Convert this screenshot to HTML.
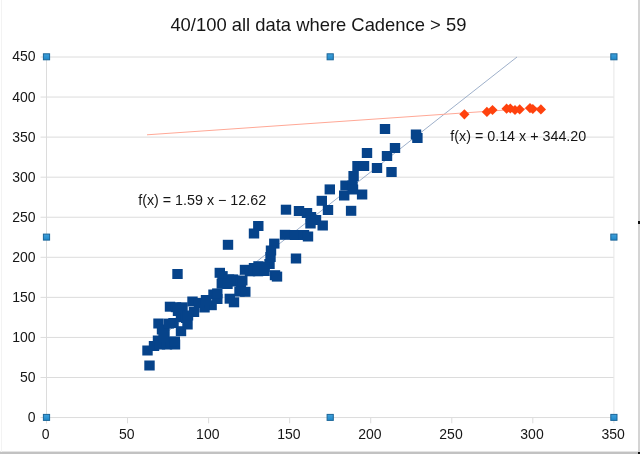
<!DOCTYPE html>
<html><head><meta charset="utf-8"><title>40/100 all data where Cadence &gt; 59</title>
<style>
html,body{margin:0;padding:0;background:#fff;}
body{width:640px;height:454px;overflow:hidden;position:relative;font-family:"Liberation Sans",sans-serif;}
svg{position:absolute;left:0;top:0;display:block;}
text{font-family:"Liberation Sans",sans-serif;fill:#161616;}
.t{font-size:18.4px;}
.l{font-size:14px;}
.e{font-size:14.3px;}
</style></head><body>
<svg width="640" height="454" viewBox="0 0 640 454">
<rect x="0" y="0" width="640" height="454" fill="#ffffff"/>
<rect x="638" y="0" width="2" height="454" fill="#d4d4d4"/>
<rect x="0" y="451" width="638" height="1" fill="#e4e4e4"/>
<rect x="0" y="452" width="640" height="2" fill="#c2c2c2"/>
<rect x="638" y="452" width="2" height="2" fill="#111"/>
<rect x="638" y="221" width="2" height="3" fill="#111"/>
<rect x="1" y="0" width="1" height="452" fill="#f3f3f3"/>
<g stroke="#dcdcdc" stroke-width="1" fill="none">
<line x1="40.5" y1="417.55" x2="613.9" y2="417.55"/>
<line x1="40.5" y1="377.49" x2="613.9" y2="377.49"/>
<line x1="40.5" y1="337.43" x2="613.9" y2="337.43"/>
<line x1="40.5" y1="297.37" x2="613.9" y2="297.37"/>
<line x1="40.5" y1="257.31" x2="613.9" y2="257.31"/>
<line x1="40.5" y1="217.24" x2="613.9" y2="217.24"/>
<line x1="40.5" y1="177.18" x2="613.9" y2="177.18"/>
<line x1="40.5" y1="137.12" x2="613.9" y2="137.12"/>
<line x1="40.5" y1="97.06" x2="613.9" y2="97.06"/>
<line x1="40.5" y1="57.00" x2="613.9" y2="57.00"/>
<line x1="46.50" y1="417.55" x2="46.50" y2="423.3"/>
<line x1="127.56" y1="417.55" x2="127.56" y2="423.3"/>
<line x1="208.61" y1="417.55" x2="208.61" y2="423.3"/>
<line x1="289.67" y1="417.55" x2="289.67" y2="423.3"/>
<line x1="370.73" y1="417.55" x2="370.73" y2="423.3"/>
<line x1="451.79" y1="417.55" x2="451.79" y2="423.3"/>
<line x1="532.84" y1="417.55" x2="532.84" y2="423.3"/>
<line x1="613.90" y1="417.55" x2="613.90" y2="423.3"/>
<line x1="46.5" y1="57.0" x2="46.5" y2="423.3"/>
<line x1="613.9" y1="57.0" x2="613.9" y2="417.55" stroke="#e6e6e6"/>
</g>
<text class="l" x="35.5" y="421.9" text-anchor="end">0</text>
<text class="l" x="35.5" y="381.9" text-anchor="end">50</text>
<text class="l" x="35.5" y="341.8" text-anchor="end">100</text>
<text class="l" x="35.5" y="301.8" text-anchor="end">150</text>
<text class="l" x="35.5" y="261.7" text-anchor="end">200</text>
<text class="l" x="35.5" y="221.6" text-anchor="end">250</text>
<text class="l" x="35.5" y="181.6" text-anchor="end">300</text>
<text class="l" x="35.5" y="141.5" text-anchor="end">350</text>
<text class="l" x="35.5" y="101.5" text-anchor="end">400</text>
<text class="l" x="35.5" y="61.4" text-anchor="end">450</text>
<text class="l" x="45.7" y="439.1" text-anchor="middle">0</text>
<text class="l" x="126.8" y="439.1" text-anchor="middle">50</text>
<text class="l" x="207.8" y="439.1" text-anchor="middle">100</text>
<text class="l" x="288.9" y="439.1" text-anchor="middle">150</text>
<text class="l" x="369.9" y="439.1" text-anchor="middle">200</text>
<text class="l" x="451.0" y="439.1" text-anchor="middle">250</text>
<text class="l" x="532.0" y="439.1" text-anchor="middle">300</text>
<text class="l" x="613.1" y="439.1" text-anchor="middle">350</text>
<text class="t" x="318.4" y="31" text-anchor="middle">40/100 all data where Cadence &gt; 59</text>
<line x1="145.8" y1="348.7" x2="517.0" y2="57.0" stroke="#8da2c1" stroke-width="0.85"/>
<line x1="147.0" y1="134.8" x2="540.9" y2="107.6" stroke="#ffa896" stroke-width="1"/>
<g fill="#06438a">
<rect x="144.3" y="360.5" width="10.4" height="10.0"/>
<rect x="142.3" y="345.5" width="10.4" height="10.0"/>
<rect x="148.8" y="341.0" width="10.4" height="10.0"/>
<rect x="152.8" y="335.5" width="10.4" height="10.0"/>
<rect x="153.3" y="318.5" width="10.4" height="10.0"/>
<rect x="156.8" y="324.5" width="10.4" height="10.0"/>
<rect x="154.8" y="339.5" width="10.4" height="10.0"/>
<rect x="161.8" y="339.5" width="10.4" height="10.0"/>
<rect x="169.8" y="339.5" width="10.4" height="10.0"/>
<rect x="175.8" y="326.2" width="10.4" height="10.0"/>
<rect x="182.3" y="319.5" width="10.4" height="10.0"/>
<rect x="159.3" y="327.0" width="10.4" height="10.0"/>
<rect x="165.8" y="336.7" width="10.4" height="10.0"/>
<rect x="158.3" y="332.0" width="10.4" height="10.0"/>
<rect x="168.3" y="318.0" width="10.4" height="10.0"/>
<rect x="175.8" y="312.0" width="10.4" height="10.0"/>
<rect x="164.8" y="301.7" width="10.4" height="10.0"/>
<rect x="170.8" y="302.2" width="10.4" height="10.0"/>
<rect x="177.3" y="302.3" width="10.4" height="10.0"/>
<rect x="172.8" y="306.0" width="10.4" height="10.0"/>
<rect x="163.8" y="318.6" width="10.4" height="10.0"/>
<rect x="169.6" y="336.5" width="10.4" height="10.0"/>
<rect x="180.8" y="313.0" width="10.4" height="10.0"/>
<rect x="187.3" y="296.5" width="10.4" height="10.0"/>
<rect x="208.3" y="289.5" width="10.4" height="10.0"/>
<rect x="212.1" y="294.0" width="10.4" height="10.0"/>
<rect x="212.1" y="288.4" width="10.4" height="10.0"/>
<rect x="206.4" y="300.2" width="10.4" height="10.0"/>
<rect x="199.3" y="302.5" width="10.4" height="10.0"/>
<rect x="188.8" y="307.0" width="10.4" height="10.0"/>
<rect x="182.8" y="310.5" width="10.4" height="10.0"/>
<rect x="193.8" y="298.0" width="10.4" height="10.0"/>
<rect x="200.8" y="295.0" width="10.4" height="10.0"/>
<rect x="172.3" y="269.0" width="10.4" height="10.0"/>
<rect x="222.8" y="239.8" width="10.4" height="10.0"/>
<rect x="253.1" y="221.0" width="10.4" height="10.0"/>
<rect x="248.8" y="228.5" width="10.4" height="10.0"/>
<rect x="280.8" y="204.7" width="10.4" height="10.0"/>
<rect x="269.1" y="238.6" width="10.4" height="10.0"/>
<rect x="265.8" y="245.5" width="10.4" height="10.0"/>
<rect x="265.3" y="252.0" width="10.4" height="10.0"/>
<rect x="264.3" y="259.0" width="10.4" height="10.0"/>
<rect x="239.8" y="264.8" width="10.4" height="10.0"/>
<rect x="244.8" y="266.3" width="10.4" height="10.0"/>
<rect x="248.8" y="263.0" width="10.4" height="10.0"/>
<rect x="253.3" y="261.2" width="10.4" height="10.0"/>
<rect x="252.8" y="266.3" width="10.4" height="10.0"/>
<rect x="259.3" y="262.0" width="10.4" height="10.0"/>
<rect x="259.3" y="266.0" width="10.4" height="10.0"/>
<rect x="269.8" y="270.2" width="10.4" height="10.0"/>
<rect x="271.8" y="271.6" width="10.4" height="10.0"/>
<rect x="214.6" y="267.8" width="10.4" height="10.0"/>
<rect x="217.3" y="271.1" width="10.4" height="10.0"/>
<rect x="223.8" y="274.4" width="10.4" height="10.0"/>
<rect x="227.8" y="274.4" width="10.4" height="10.0"/>
<rect x="216.6" y="278.7" width="10.4" height="10.0"/>
<rect x="231.8" y="276.5" width="10.4" height="10.0"/>
<rect x="235.7" y="277.6" width="10.4" height="10.0"/>
<rect x="237.1" y="275.5" width="10.4" height="10.0"/>
<rect x="222.3" y="279.0" width="10.4" height="10.0"/>
<rect x="234.3" y="286.6" width="10.4" height="10.0"/>
<rect x="240.1" y="286.8" width="10.4" height="10.0"/>
<rect x="224.6" y="293.7" width="10.4" height="10.0"/>
<rect x="228.8" y="297.3" width="10.4" height="10.0"/>
<rect x="290.8" y="253.5" width="10.4" height="10.0"/>
<rect x="293.8" y="206.0" width="10.4" height="10.0"/>
<rect x="301.8" y="208.0" width="10.4" height="10.0"/>
<rect x="305.8" y="212.0" width="10.4" height="10.0"/>
<rect x="310.8" y="215.0" width="10.4" height="10.0"/>
<rect x="317.5" y="220.5" width="10.4" height="10.0"/>
<rect x="305.3" y="218.5" width="10.4" height="10.0"/>
<rect x="324.6" y="184.4" width="10.4" height="10.0"/>
<rect x="316.6" y="195.8" width="10.4" height="10.0"/>
<rect x="322.8" y="205.0" width="10.4" height="10.0"/>
<rect x="279.8" y="229.8" width="10.4" height="10.0"/>
<rect x="289.8" y="230.0" width="10.4" height="10.0"/>
<rect x="298.8" y="230.0" width="10.4" height="10.0"/>
<rect x="302.8" y="231.5" width="10.4" height="10.0"/>
<rect x="340.3" y="180.5" width="10.4" height="10.0"/>
<rect x="339.0" y="190.5" width="10.4" height="10.0"/>
<rect x="356.9" y="189.5" width="10.4" height="10.0"/>
<rect x="345.9" y="205.8" width="10.4" height="10.0"/>
<rect x="379.8" y="124.0" width="10.4" height="10.0"/>
<rect x="389.8" y="143.0" width="10.4" height="10.0"/>
<rect x="381.8" y="151.0" width="10.4" height="10.0"/>
<rect x="361.8" y="148.0" width="10.4" height="10.0"/>
<rect x="352.3" y="161.0" width="10.4" height="10.0"/>
<rect x="358.8" y="161.0" width="10.4" height="10.0"/>
<rect x="371.8" y="163.0" width="10.4" height="10.0"/>
<rect x="386.3" y="167.0" width="10.4" height="10.0"/>
<rect x="348.4" y="171.0" width="10.4" height="10.0"/>
<rect x="347.3" y="180.5" width="10.4" height="10.0"/>
<rect x="347.8" y="184.5" width="10.4" height="10.0"/>
<rect x="410.8" y="129.5" width="10.4" height="10.0"/>
<rect x="412.2" y="133.0" width="10.4" height="10.0"/>
</g>
<g fill="#ff420e">
<path d="M459.3 114.3L464.4 109.2L469.5 114.3L464.4 119.4Z"/>
<path d="M481.8 111.9L486.9 106.8L492.0 111.9L486.9 117.0Z"/>
<path d="M487.4 110.0L492.5 104.9L497.6 110.0L492.5 115.1Z"/>
<path d="M501.5 108.7L506.6 103.6L511.7 108.7L506.6 113.8Z"/>
<path d="M505.2 108.5L510.3 103.4L515.4 108.5L510.3 113.6Z"/>
<path d="M509.9 110.0L515.0 104.9L520.1 110.0L515.0 115.1Z"/>
<path d="M514.6 109.4L519.7 104.3L524.8 109.4L519.7 114.5Z"/>
<path d="M524.9 108.1L530.0 103.0L535.1 108.1L530.0 113.2Z"/>
<path d="M527.7 109.0L532.8 103.9L537.9 109.0L532.8 114.1Z"/>
<path d="M535.8 109.4L540.9 104.3L546.0 109.4L540.9 114.5Z"/>
</g>
<text class="e" x="138.2" y="204.9">f(x) = 1.59 x − 12.62</text>
<text class="e" x="450.3" y="140.7">f(x) = 0.14 x + 344.20</text>
<defs><linearGradient id="hg" x1="0" y1="0" x2="0" y2="1"><stop offset="0" stop-color="#3fa1dc"/><stop offset="1" stop-color="#2088c8"/></linearGradient></defs>
<g fill="url(#hg)" stroke="#1b6598" stroke-width="1">
<rect x="43.4" y="53.8" width="6.2" height="6.0"/>
<rect x="327.1" y="53.8" width="6.2" height="6.0"/>
<rect x="610.8" y="53.8" width="6.2" height="6.0"/>
<rect x="43.4" y="234.1" width="6.2" height="6.0"/>
<rect x="610.8" y="234.1" width="6.2" height="6.0"/>
<rect x="43.4" y="414.4" width="6.2" height="6.0"/>
<rect x="327.1" y="414.4" width="6.2" height="6.0"/>
<rect x="610.8" y="414.4" width="6.2" height="6.0"/>
</g>
</svg>
</body></html>
